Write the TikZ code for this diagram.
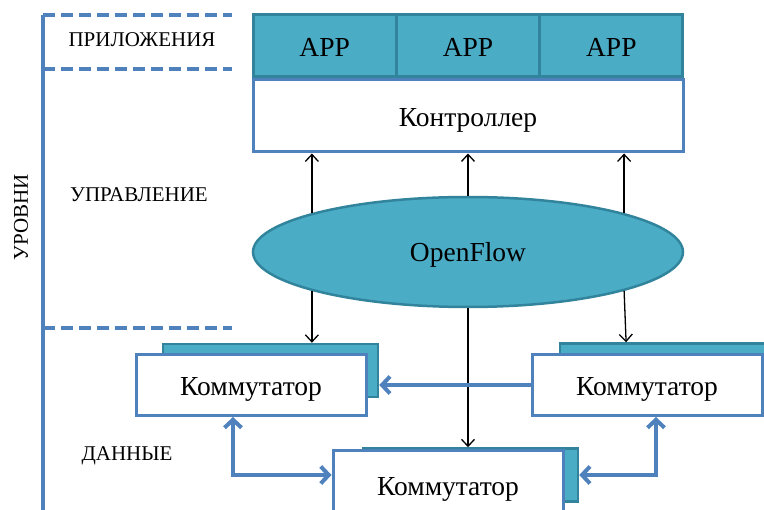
\documentclass[tikz,border=0pt]{standalone}
\usepackage{fontspec}
\setmainfont{Liberation Serif}
\usetikzlibrary{arrows.meta,shapes.geometric,calc}
\definecolor{lblue}{HTML}{4F81BD}
\definecolor{tealf}{HTML}{4BACC6}
\definecolor{teald}{HTML}{31849B}
\begin{document}
\begin{tikzpicture}[x=1pt,y=-1pt,
  mainfont/.style={font=\fontsize{27.5}{32}\selectfont,text height=21pt,text depth=0pt},
  appbox/.style={mainfont,draw=teald,fill=tealf,line width=3pt,minimum width=143.33pt,minimum height=62pt,inner sep=0pt},
  ctrlbox/.style={mainfont,draw=lblue,fill=white,line width=3pt,minimum width=430pt,minimum height=72pt,inner sep=0pt},
  ofell/.style={ellipse,draw=teald,fill=tealf,line width=2.5pt,minimum width=430pt,minimum height=110pt,inner sep=0pt,font=\fontsize{27.5}{32}\selectfont,text height=20pt,text depth=0pt},
  swbox/.style={mainfont,draw=lblue,fill=white,line width=3pt,minimum width=230pt,minimum height=61pt,inner sep=0pt},
  shbox/.style={draw=teald,fill=tealf,line width=2.5pt,minimum width=215pt,minimum height=53pt,inner sep=0pt},
  lvl/.style={font=\fontsize{21}{25}\selectfont,inner sep=0pt,text height=13.9pt,text depth=0pt},
  arr/.style={line width=1.3pt,-{Straight Barb[length=7pt,width=13pt]}},
  barr/.style={draw=lblue,line width=4pt,-{Straight Barb[length=8pt,width=17pt]}},
  dbarr/.style={draw=lblue,line width=4pt,{Straight Barb[length=8pt,width=17pt]}-{Straight Barb[length=8pt,width=17pt]}},
  dline/.style={draw=lblue,line width=4pt,dash pattern=on 12pt off 6pt},
  bar/.style={draw=lblue,line width=4.5pt}]
\useasboundingbox (0,0) rectangle (764,510);

% level frame
\coordinate (bt) at (43,15);
\coordinate (bb) at (43,512);
\coordinate (d1) at (232,15);
\coordinate (d2a) at (43,69);
\coordinate (d2) at (232,69);
\coordinate (d3a) at (43,328);
\coordinate (d3) at (232,328);
\draw[dline] (bt) -- (d1);
\draw[dline] (d2a) -- (d2);
\draw[dline] (d3a) -- (d3);
\draw[bar] (bt) -- (bb);

\node[lvl] (lapp) at (142,39.5) {ПРИЛОЖЕНИЯ};
\node[lvl] (lctl) at (139,194.5) {УПРАВЛЕНИЕ};
\node[lvl] (ldat) at (127,453.5) {ДАННЫЕ};
\node[lvl,rotate=90] (llev) at (21,217.5) {УРОВНИ};

% apps and controller
\node[appbox] (app1) at (324.67,46) {APP};
\node[appbox] (app2) at (468,46) {APP};
\node[appbox] (app3) at (611.33,46) {APP};
\node[ctrlbox] (ctrl) at (468,116) {Контроллер};

% OpenFlow
\node[ofell] (of) at (468,252) {OpenFlow};

% switches
\node[shbox] (sh1) at (270.5,370.5) {};
\node[swbox] (sw1) at (251,385) {Коммутатор};
\node[shbox] (sh2) at (667.5,370) {};
\node[swbox] (sw2) at (647,385) {Коммутатор};
\node[shbox] (sh3) at (470.5,475) {};
\node[swbox,minimum height=75pt] (sw3) at (448,488.5) {};
\node[mainfont,inner sep=0pt] (sw3t) at (448,485) {Коммутатор};

% control arrows
\draw[arr] (of.166) -- (of.166 |- ctrl.south);
\draw[arr] (of.north) -- (ctrl.south);
\draw[arr] (of.14) -- (of.14 |- ctrl.south);
\draw[arr] (of.194) -- (of.194 |- sh1.north);
\draw[arr] (of.south) -- (of.south |- sh3.north);
\draw[arr] (of.346) -- ($(of.346 |- sh2.north)+(2,0)$);

% data arrows
\draw[barr] (sw2.west) -- (sw2.west -| sh1.east);
\draw[dbarr] ([xshift=-18pt]sw1.south) |- (sw3.west |- sh3.east);
\draw[dbarr] ([xshift=9pt]sw2.south) |- (sh3.east);
\end{tikzpicture}
\end{document}
